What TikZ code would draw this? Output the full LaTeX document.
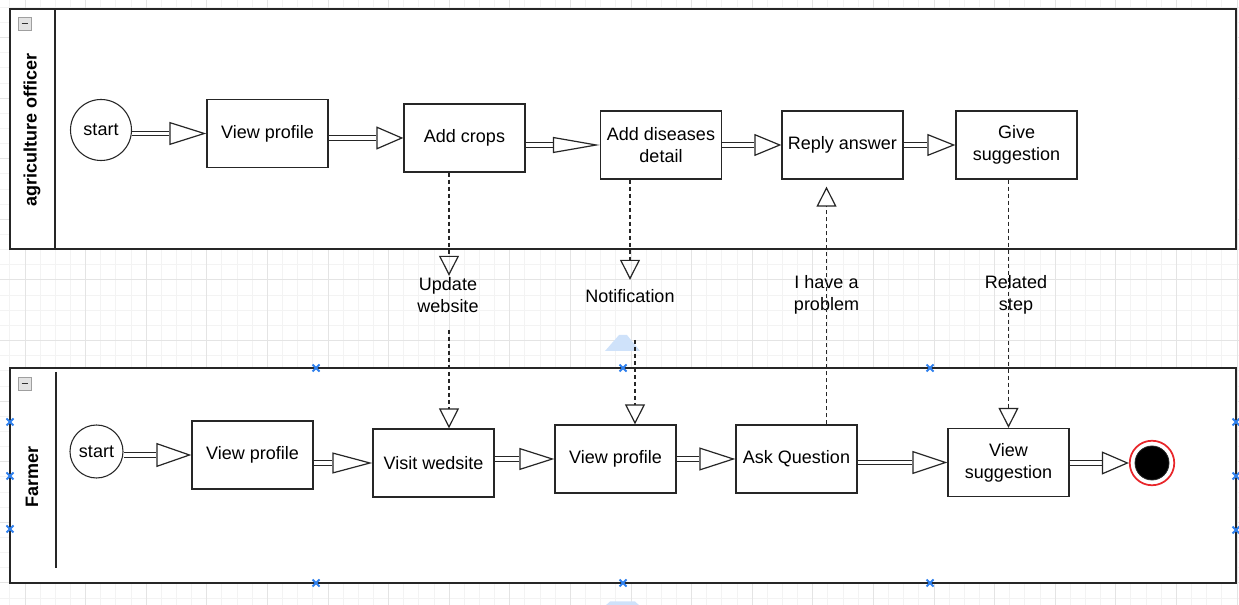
\documentclass[tikz,border=0pt]{standalone}
\usepackage{fontspec}
\setmainfont{Liberation Sans}
\usetikzlibrary{arrows.meta,calc}
\definecolor{gridmin}{HTML}{F3F3F3}
\definecolor{gridmaj}{HTML}{E4E4E4}
\definecolor{lnc}{HTML}{262626}
\definecolor{selblue}{HTML}{2F80ED}
\definecolor{handleblue}{HTML}{CFE2FA}
\definecolor{endred}{HTML}{E8262A}
\newcommand\flowarr[4]{%
  \draw[shaft, shorten >=#1] (#3.east |- #4.west) -- (#4.west);
  \draw[flowhead, -{Triangle[open, length=#1, width=#2]}] (#3.east |- #4.west) -- (#4.west);}
\begin{document}
\begin{tikzpicture}[x=0.75pt,y=-0.75pt,
  gridminline/.style={draw=gridmin, line width=0.75pt},
  gridmajline/.style={draw=gridmaj, line width=0.75pt},
  lanebox/.style={draw=lnc, line width=1pt, fill=white},
  lanetitle/.style={rotate=90, inner sep=0pt, font=\bfseries\fontsize{13.5}{16}\selectfont},
  task/.style={rectangle, draw=lnc, line width=1pt, fill=white, minimum width=90.75pt, minimum height=51pt, inner sep=1pt, align=center, font=\fontsize{13.5}{16.5}\selectfont},
  evstart/.style={circle, draw=lnc, line width=0.8pt, fill=white, inner sep=0pt, font=\fontsize{13.5}{16}\selectfont},
  lbl/.style={align=center, inner sep=1pt, font=\fontsize{13.5}{16.5}\selectfont},
  shaft/.style={draw=lnc, line width=0.75pt, double=white, double distance=2.4pt},
  flowhead/.style={draw=lnc, line width=0.9pt, dash pattern=on 0pt off 600pt, line join=miter},
  msg/.style={draw=lnc, line width=0.9pt, dash pattern=on 3pt off 2.25pt, -{Triangle[open, length=15pt, width=15pt]}},
  selx/.style={draw=selblue, line width=1.5pt},
  handle/.style={fill=handleblue, draw=none}]
\useasboundingbox (0,0) rectangle (1239,605);
% background grid
\begin{scope}
\clip (0,0) rectangle (1239,605);
\foreach \k in {-1,...,81} \draw[gridminline] ({25+15.15*\k},0) -- ({25+15.15*\k},605);
\foreach \k in {-18,...,21} \draw[gridminline] (0,{280+15.15*\k}) -- (1239,{280+15.15*\k});
\foreach \k in {0,...,20} \draw[gridmajline] ({25+60.6*\k},0) -- ({25+60.6*\k},605);
\foreach \k in {-4,...,5} \draw[gridmajline] (0,{280+60.6*\k}) -- (1239,{280+60.6*\k});
\end{scope}
% lanes
\draw[lanebox] (10,9) rectangle (1236,249);
\draw[draw=lnc, line width=1pt] (55,9) -- (55,249);
\draw[lanebox] (10,368) rectangle (1236,583);
\draw[draw=lnc, line width=1pt] (56,372) -- (56,568);
% collapse icons
\foreach \yy in {17,377} {
  \draw[draw=gray!75, fill=gray!22, line width=0.7pt] (18,\yy) rectangle (31,{\yy+13});
  \draw[draw=black!80, line width=1.1pt] (21.5,{\yy+6.5}) -- (27.5,{\yy+6.5});
}
\node[lanetitle] (ttlA) at (32,130) {agriculture officer};
\node[lanetitle] (ttlF) at (32,477) {Farmer};
% selection handles
\fill[handle] (605,351) -- (619,335) -- (627,335) -- (640,351) -- cycle;
\fill[handle] (605,606) -- (610,601.5) -- (635,601.5) -- (640,606) -- cycle;
% top lane nodes
\node[evstart, minimum size=45.75pt] (st1) at (101,130) {start};
\node[task] (vp1) at (267.5,133.5) {View profile};
\node[task] (ac) at (464.5,138) {Add crops};
\node[task] (ad) at (661,145) {Add diseases\\detail};
\node[task] (ra) at (842.5,145) {Reply answer};
\node[task] (gs) at (1016.5,145) {Give\\suggestion};
% bottom lane nodes
\node[evstart, minimum size=39.75pt] (st2) at (96.5,451.5) {start};
\node[task] (vp2) at (252.5,455) {View profile};
\node[task] (vw) at (433.5,463) {Visit wedsite};
\node[task] (vp3) at (615.5,459) {View profile};
\node[task] (aq) at (796.5,459) {Ask Question};
\node[task] (vs) at (1008.5,462.5) {View\\suggestion};
\node[circle, draw=endred, line width=1.3pt, fill=white, minimum size=33.4pt, inner sep=0pt] (endo) at (1152,463) {};
\node[circle, draw=lnc, fill=black, line width=0.6pt, minimum size=25.5pt, inner sep=0pt] (endi) at (1152,463) {};
% sequence flows
\flowarr{27.75pt}{17.25pt}{st1}{vp1}
\flowarr{20.25pt}{17.25pt}{vp1}{ac}
\flowarr{35.25pt}{12pt}{ac}{ad}
\flowarr{20.25pt}{16.5pt}{ad}{ra}
\flowarr{21pt}{16.5pt}{ra}{gs}
\flowarr{26.25pt}{18pt}{st2}{vp2}
\flowarr{30pt}{15.75pt}{vp2}{vw}
\flowarr{26.25pt}{16.5pt}{vw}{vp3}
\flowarr{27pt}{17.25pt}{vp3}{aq}
\flowarr{26.25pt}{17.25pt}{aq}{vs}
\flowarr{20.25pt}{17.25pt}{vs}{endo}
% message flows
\node[lbl] (upd) at (448,295) {Update\\website};
\coordinate (updlow) at (449,330);
\draw[msg] (updlow |- ac.south) -- (updlow |- upd.north);
\draw[msg] (updlow) -- (updlow |- vw.north);
\node[lbl] (notif) at (630,296) {Notification};
\coordinate (notlow) at (635,340);
\draw[msg] (notif |- ad.south) -- ([yshift=6pt]notif.north);
\draw[msg] (notlow) -- (notlow |- vp3.north);
\node[lbl] (prob) at (826.5,295) {I have a\\problem};
\draw[msg, shorten >=5.25pt] (prob |- aq.north) -- (prob |- ra.south);
\node[lbl] (rel) at (1016,295) {Related\\step};
\draw[msg] (vs |- gs.south) -- (vs.north);
% selection markers
\foreach \xx/\yy in {316/368, 623/368, 930/368, 316/583, 623/583, 930/583, 10/422, 10/476, 10/529, 1236/422, 1236/476, 1236/530} {
  \draw[selx] ({\xx-3.5},{\yy-3.5}) -- ({\xx+3.5},{\yy+3.5});
  \draw[selx] ({\xx-3.5},{\yy+3.5}) -- ({\xx+3.5},{\yy-3.5});
}
\end{tikzpicture}
\end{document}
